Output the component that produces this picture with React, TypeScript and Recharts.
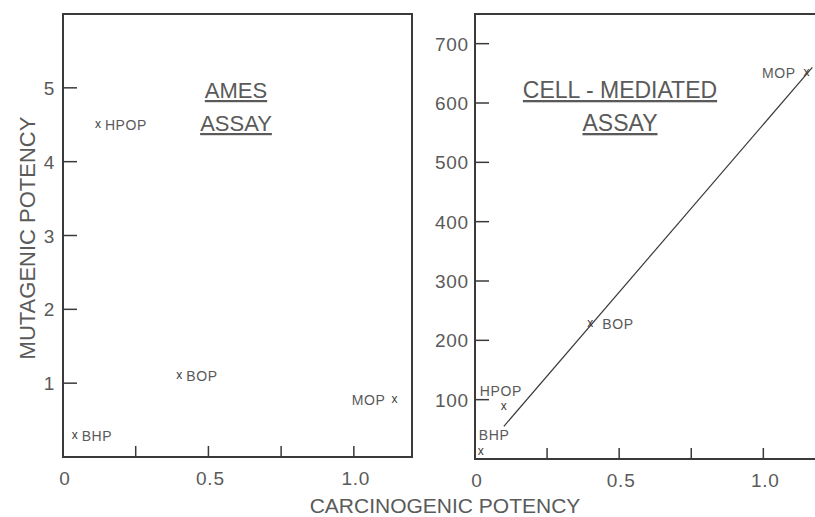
import { ScatterChart, Scatter, XAxis, YAxis, ReferenceArea } from 'recharts';

// compounds, in the same order in every array below
const compounds = ['HPOP', 'BOP', 'MOP', 'BHP'];

// Ames assay panel
const amesCarcinogenic = [0.12, 0.4, 1.14, 0.04];
const amesMutagenic = [4.5, 1.1, 0.77, 0.28];

// cell-mediated assay panel
const cellCarcinogenic = [0.1, 0.4, 1.15, 0.02];
const cellMutagenic = [87, 228, 650, 12];

// fitted line in the cell-mediated panel
const fitCarcinogenic = [0.1, 1.17];
const fitMutagenic = [55, 660];

const xTicks = [0, 0.25, 0.5, 0.75, 1.0];
const xTickLabels: Record<number, string> = { 0: '0', 0.5: '0.5', 1: '1.0' };
const amesYTicks = [1, 2, 3, 4, 5];
const cellYTicks = [100, 200, 300, 400, 500, 600, 700];

const INK = '#3a3a3a';
const TEXT = '#5a5a5a';
const FONT = '"Liberation Sans", Arial, sans-serif';

type Place = { dx: number; dy: number; anchor: 'start' | 'end' | 'middle' };

const amesLabelPlace: Record<string, Place> = {
  HPOP: { dx: 7, dy: 5, anchor: 'start' },
  BOP: { dx: 7, dy: 5, anchor: 'start' },
  MOP: { dx: -9, dy: 5, anchor: 'end' },
  BHP: { dx: 7, dy: 5, anchor: 'start' },
};

const cellLabelPlace: Record<string, Place> = {
  HPOP: { dx: -24, dy: -11, anchor: 'start' },
  BOP: { dx: 12, dy: 5, anchor: 'start' },
  MOP: { dx: -11, dy: 5, anchor: 'end' },
  BHP: { dx: -2, dy: -12, anchor: 'start' },
};

const toPoints = (xs: number[], ys: number[]) =>
  xs.map((x, i) => ({ x, y: ys[i], name: compounds[i] }));

const amesData = toPoints(amesCarcinogenic, amesMutagenic);
const cellData = toPoints(cellCarcinogenic, cellMutagenic);
const fitData = fitCarcinogenic.map((x, i) => ({ x, y: fitMutagenic[i] }));

const makeMarker = (places: Record<string, Place>) => (props: any) => {
  const { cx, cy, payload } = props;
  const p = places[payload.name];
  return (
    <g fontFamily={FONT} fill={INK}>
      <text x={cx} y={cy + 3} textAnchor="middle" fontSize={12}>x</text>
      <text
        x={cx + p.dx}
        y={cy + p.dy}
        textAnchor={p.anchor}
        fontSize={14}
        letterSpacing={0.6}
        fill={TEXT}
      >
        {payload.name}
      </text>
    </g>
  );
};

const XTick = (props: any) => {
  const { x, y, payload } = props;
  const label = xTickLabels[payload.value];
  return (
    <g>
      {payload.value > 0 && <line x1={x} x2={x} y1={y} y2={y - 11} stroke={INK} strokeWidth={1.5} />}
      {label && (
        <text
          x={x + 2}
          y={y + 28}
          textAnchor="middle"
          fontSize={19}
          letterSpacing={0.8}
          fill={TEXT}
          fontFamily={FONT}
        >
          {label}
        </text>
      )}
    </g>
  );
};

const makeYTick = (gap: number) => (props: any) => {
  const { x, y, payload } = props;
  return (
    <g>
      <line x1={x} x2={x + 14} y1={y} y2={y} stroke={INK} strokeWidth={1.5} />
      <text
        x={x - gap}
        y={y + 7}
        textAnchor="end"
        fontSize={19}
        letterSpacing={0.8}
        fill={TEXT}
        fontFamily={FONT}
      >
        {payload.value}
      </text>
    </g>
  );
};

const Title = ({ x, lines, size }: { x: number; lines: string[]; size: number }) => (
  <>
    {lines.map((t, i) => (
      <text
        key={t}
        x={x}
        y={98 + i * 33}
        textAnchor="middle"
        fontSize={size}
        fill={TEXT}
        fontFamily={FONT}
        textDecoration="underline"
      >
        {t}
      </text>
    ))}
  </>
);

const App = () => {
  return (
    <div
      style={{
        position: 'absolute',
        left: 0,
        top: 0,
        width: 815,
        height: 517,
        overflow: 'hidden',
        background: '#fff',
      }}
    >
      <div style={{ position: 'absolute', left: 0, top: 0 }}>
        <ScatterChart width={420} height={517} margin={{ top: 14, right: 8, bottom: 30, left: 23 }}>
          <XAxis
            type="number"
            dataKey="x"
            domain={[0, 1.2]}
            ticks={xTicks}
            axisLine={false}
            tickLine={false}
            tickSize={0}
            tickMargin={0}
            height={30}
            tick={<XTick />}
            allowDataOverflow
          />
          <YAxis
            type="number"
            dataKey="y"
            domain={[0, 6]}
            ticks={amesYTicks}
            axisLine={false}
            tickLine={false}
            tickSize={0}
            tickMargin={0}
            width={40}
            tick={makeYTick(8)}
            allowDataOverflow
          />
          <ReferenceArea x1={0} x2={1.2} y1={0} y2={6} fill="none" stroke={INK} strokeWidth={2} ifOverflow="visible" />
          <Scatter data={amesData} shape={makeMarker(amesLabelPlace)} isAnimationActive={false} />
          <Title x={236} lines={['AMES', 'ASSAY']} size={22} />
        </ScatterChart>
      </div>
      <div style={{ position: 'absolute', left: 400, top: 0 }}>
        <ScatterChart width={430} height={517} margin={{ top: 14, right: 9, bottom: 28, left: 35 }}>
          <XAxis
            type="number"
            dataKey="x"
            domain={[0, 1.2]}
            ticks={xTicks}
            axisLine={false}
            tickLine={false}
            tickSize={0}
            tickMargin={0}
            height={30}
            tick={<XTick />}
            allowDataOverflow
          />
          <YAxis
            type="number"
            dataKey="y"
            domain={[0, 750]}
            ticks={cellYTicks}
            axisLine={false}
            tickLine={false}
            tickSize={0}
            tickMargin={0}
            width={40}
            tick={makeYTick(6)}
            allowDataOverflow
          />
          <ReferenceArea x1={0} x2={1.2} y1={0} y2={750} fill="none" stroke={INK} strokeWidth={2} ifOverflow="visible" />
          <Scatter
            data={fitData}
            line={{ stroke: INK, strokeWidth: 1.2 }}
            shape={() => <g />}
            isAnimationActive={false}
          />
          <Scatter data={cellData} shape={makeMarker(cellLabelPlace)} isAnimationActive={false} />
          <Title x={220} lines={['CELL - MEDIATED', 'ASSAY']} size={23} />
        </ScatterChart>
      </div>
      <svg width={815} height={517} style={{ position: 'absolute', left: 0, top: 0, pointerEvents: 'none' }}>
        <text
          transform="translate(35,238) rotate(-90)"
          textAnchor="middle"
          fontSize={22}
          fill={TEXT}
          fontFamily={FONT}
        >
          MUTAGENIC POTENCY
        </text>
        <text x={445} y={513} textAnchor="middle" fontSize={21} fill={TEXT} fontFamily={FONT}>
          CARCINOGENIC POTENCY
        </text>
      </svg>
    </div>
  );
};

export default App;
